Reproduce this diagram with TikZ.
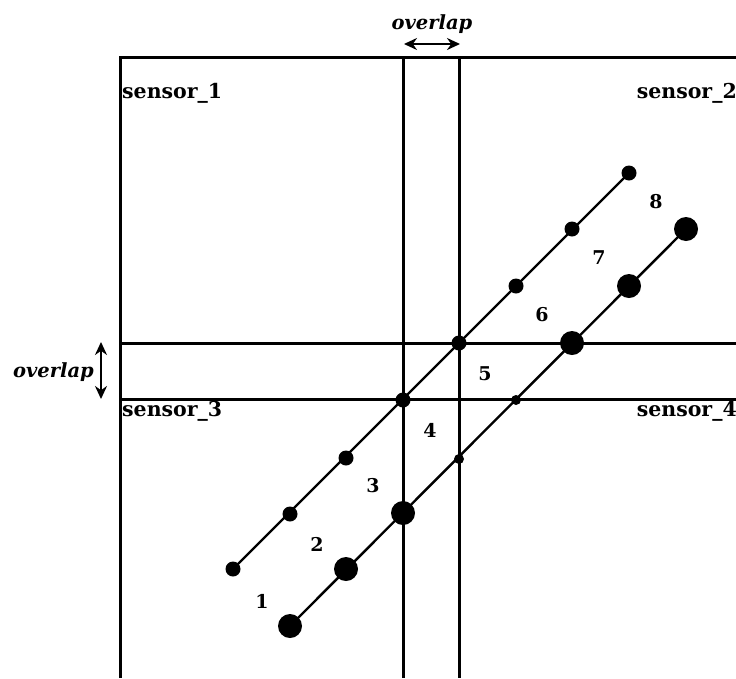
\documentclass[tikz,border=0pt]{standalone}
\usepackage{fontspec}
\setmainfont{DejaVu Serif}
\usetikzlibrary{arrows.meta}
\begin{document}
\begin{tikzpicture}[x=1pt,y=-1pt,
  frame/.style={line width=3pt},
  track/.style={line width=2.4pt},
  sdot/.style={circle,fill=black,inner sep=0pt,minimum size=15pt},
  bdot/.style={circle,fill=black,inner sep=0pt,minimum size=24pt},
  tdot/.style={circle,fill=black,inner sep=0pt,minimum size=10pt},
  lab/.style={font=\fontsize{20.5}{22}\selectfont\bfseries,inner sep=0pt},
  num/.style={font=\fontsize{19}{21}\selectfont\bfseries,inner sep=0pt},
  ov/.style={font=\fontsize{19.5}{21}\selectfont\bfseries\itshape,inner sep=0pt},
  dbl/.style={line width=2.6pt,{Stealth[length=13pt,width=12pt]}-{Stealth[length=13pt,width=12pt]}}]
\useasboundingbox (0,0) rectangle (736,678);
% frame coordinates
\coordinate (tl) at (120,57);
\coordinate (tr) at (736,57);
\coordinate (bl) at (120,678);
\coordinate (va1) at (403,57);
\coordinate (vb1) at (403,678);
\coordinate (va2) at (459,57);
\coordinate (vb2) at (459,678);
\coordinate (ha1) at (120,343);
\coordinate (hb1) at (736,343);
\coordinate (ha2) at (120,399);
\coordinate (hb2) at (736,399);
\draw[frame] (bl) -- (tl) -- (tr);
\draw[frame] (va1) -- (vb1);
\draw[frame] (va2) -- (vb2);
\draw[frame] (ha1) -- (hb1);
\draw[frame] (ha2) -- (hb2);
% overlap arrows
\coordinate (oa) at (404,44);
\coordinate (ob) at (460,44);
\draw[dbl] (oa) -- (ob);
\node[ov] (otop) at (432,24) {overlap};
\coordinate (oc) at (101,342);
\coordinate (od) at (101,399);
\draw[dbl] (oc) -- (od);
\node[ov,anchor=east] (oleft) at (94,372) {overlap};
% sensor labels
\node[lab,anchor=west] (s1) at (122,93) {sensor\_1};
\node[lab,anchor=east] (s2) at (737,93) {sensor\_2};
\node[lab,anchor=west] (s3) at (122,411) {sensor\_3};
\node[lab,anchor=east] (s4) at (737,411) {sensor\_4};
% upper track
\node[sdot] (u1) at (233,569) {};
\node[sdot] (u2) at (290,514) {};
\node[sdot] (u3) at (346,458) {};
\node[sdot] (u4) at (403,400) {};
\node[sdot] (u5) at (459,343) {};
\node[sdot] (u6) at (516,286) {};
\node[sdot] (u7) at (572,229) {};
\node[sdot] (u8) at (629,173) {};
\draw[track] (u1.center) -- (u8.center);
% lower track
\node[bdot] (l1) at (290,626) {};
\node[bdot] (l2) at (346,569) {};
\node[bdot] (l3) at (403,513) {};
\node[tdot] (l4) at (459,459) {};
\node[tdot] (l5) at (516,400) {};
\node[bdot] (l6) at (572,343) {};
\node[bdot] (l7) at (629,286) {};
\node[bdot] (l8) at (686,229) {};
\draw[track] (l1.center) -- (l8.center);
% numbers
\node[num] (n1) at (262,601) {1};
\node[num] (n2) at (317,544) {2};
\node[num] (n3) at (373,486) {3};
\node[num] (n4) at (430,430) {4};
\node[num] (n5) at (485,374) {5};
\node[num] (n6) at (542,315) {6};
\node[num] (n7) at (599,258) {7};
\node[num] (n8) at (656,202) {8};
\end{tikzpicture}
\end{document}
